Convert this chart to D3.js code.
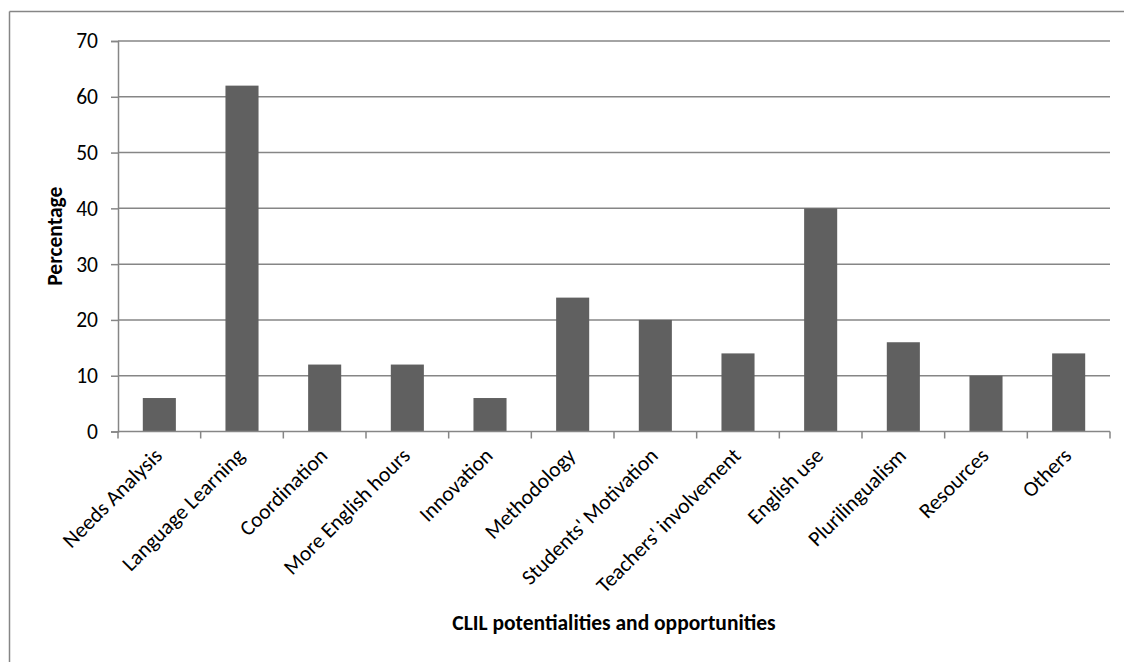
<!DOCTYPE html>
<html><head><meta charset="utf-8">
<script src="https://cdn.jsdelivr.net/npm/d3@7"></script>
<style>
body{margin:0;background:#fff;}
text{font-family:Carlito,Calibri,Lato,"Open Sans",sans-serif;fill:#000;}
</style></head>
<body><svg id="c" width="1124" height="662"></svg>
<script>
const categories = ["Needs Analysis","Language Learning","Coordination","More English hours","Innovation","Methodology","Students' Motivation","Teachers' involvement","English use","Plurilingualism","Resources","Others"];
const values = [6,62,12,12,6,24,20,14,40,16,10,14];
const yTicks = [0,10,20,30,40,50,60,70];
const xTitle = "CLIL potentialities and opportunities";
const yTitle = "Percentage";

const svg = d3.select("#c");
const L=118, R=1110, T=41, B=431.5;
const grid="#868686", bar="#606060";
const fs = 21.5;

// outer border (top & left)
svg.append("line").attr("x1",9.5).attr("x2",1124).attr("y1",11.5).attr("y2",11.5).attr("stroke",grid).attr("stroke-width",1.5);
svg.append("line").attr("x1",9.5).attr("x2",9.5).attr("y1",11.5).attr("y2",662).attr("stroke",grid).attr("stroke-width",1.5);

const x = d3.scaleBand().domain(categories).range([L,R]).paddingInner(0.6).paddingOuter(0.3);
const y = d3.scaleLinear().domain([0,70]).range([B,T]);

// gridlines
svg.append("g").selectAll("line").data(yTicks.slice(1)).join("line")
  .attr("x1",L).attr("x2",R).attr("y1",d=>y(d)).attr("y2",d=>y(d))
  .attr("stroke",grid).attr("stroke-width",1.5);

// bars
svg.append("g").selectAll("rect").data(values).join("rect")
  .attr("x",(d,i)=>x(categories[i])).attr("width",x.bandwidth())
  .attr("y",d=>y(d)).attr("height",d=>y(0)-y(d)).attr("fill",bar);

// y axis
const ya = svg.append("g").attr("transform",`translate(${L},0)`)
  .call(d3.axisLeft(y).tickValues(yTicks).tickSize(7).tickPadding(13));
ya.select(".domain").attr("stroke",grid).attr("stroke-width",1.5);
ya.selectAll(".tick line").attr("stroke",grid).attr("stroke-width",1.5);
ya.selectAll("text").attr("font-size",fs).attr("font-family","Carlito,Calibri,Lato,sans-serif").attr("fill","#000");

// x axis line and ticks at category boundaries
const bounds = d3.range(categories.length+1).map(i=>L+i*(R-L)/categories.length);
svg.append("line").attr("x1",L).attr("x2",R).attr("y1",B).attr("y2",B).attr("stroke",grid).attr("stroke-width",1.5);
svg.append("g").selectAll("line").data(bounds).join("line")
  .attr("x1",d=>d).attr("x2",d=>d).attr("y1",B).attr("y2",B+7).attr("stroke",grid).attr("stroke-width",1.5);

// x labels
svg.append("g").selectAll("text").data(categories).join("text")
  .attr("transform",d=>`translate(${x(d)+x.bandwidth()/2+4},457) rotate(-45)`)
  .attr("text-anchor","end").attr("font-size",fs).text(d=>d);

// titles
svg.append("text").attr("x",(L+R)/2).attr("y",630).attr("text-anchor","middle")
  .attr("font-weight","bold").attr("font-size",fs).text(xTitle);
svg.append("text").attr("transform",`translate(62,${(T+B)/2}) rotate(-90)`).attr("text-anchor","middle")
  .attr("font-weight","bold").attr("font-size",fs).text(yTitle);
</script></body></html>
